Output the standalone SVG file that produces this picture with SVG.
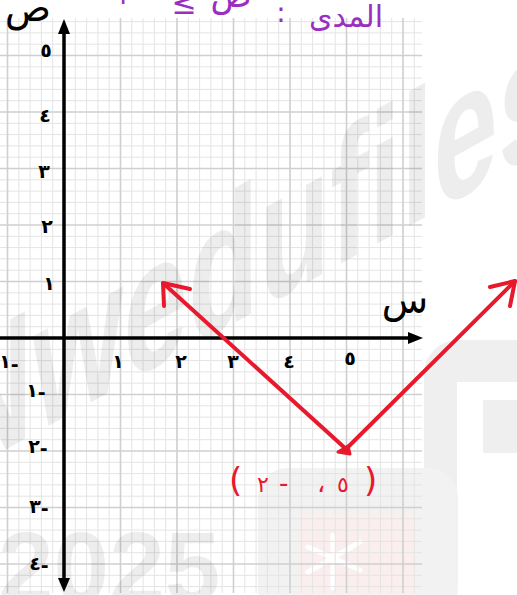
<svg xmlns="http://www.w3.org/2000/svg" width="517" height="595" viewBox="0 0 517 595">
<style>
.minor{stroke:#e4e4e4;stroke-width:1;fill:none}
.major{stroke:#cfcfcf;stroke-width:1.6;fill:none}
.axis{stroke:#000;stroke-width:3.5;fill:none}
.lbl{font-family:"DejaVu Sans",sans-serif;font-weight:bold;font-size:19px;fill:#000;text-anchor:middle}
.wm{fill:#000;fill-opacity:0.07;font-family:"Liberation Sans",Arial,sans-serif;font-weight:bold}
.red{stroke:#e8192c;stroke-width:4;fill:none;stroke-linecap:round;stroke-linejoin:round}
.redt{font-family:"DejaVu Sans",sans-serif;fill:#e8192c}
.pur{font-family:"DejaVu Sans",sans-serif;fill:#9a2fbf;text-anchor:middle}
</style>
<rect width="517" height="595" fill="#fff"/>
<g id="watermark-shapes">
<rect x="424" y="340" width="150" height="300" rx="34" fill="#efefef"/>
<rect x="457" y="382" width="70" height="230" fill="#fff"/>
<rect x="483" y="400" width="40" height="53" fill="#efefef"/>
<rect x="258" y="468" width="200" height="150" rx="30" fill="#f2f2f2"/>
<rect x="300" y="513" width="113" height="90" fill="#fbeeee"/>
<g stroke="#fff" stroke-width="5" stroke-linecap="round">
<line x1="333" y1="535" x2="333" y2="588"/>
<line x1="308" y1="547" x2="360" y2="570"/>
<line x1="308" y1="572" x2="360" y2="542"/>
</g>
</g>
<g id="grid">
<path class="minor" d="M18.8 18V593M30.1 18V593M41.4 18V593M52.7 18V593M75.3 18V593M86.6 18V593M97.9 18V593M109.2 18V593M131.8 18V593M143.1 18V593M154.4 18V593M165.7 18V593M188.3 18V593M199.6 18V593M210.9 18V593M222.2 18V593M244.8 18V593M256.1 18V593M267.4 18V593M278.7 18V593M301.3 18V593M312.6 18V593M323.9 18V593M335.2 18V593M357.8 18V593M369.1 18V593M380.4 18V593M391.7 18V593M414.3 18V593"/>
<path class="minor" d="M0 21.6H422M0 32.9H422M0 44.2H422M0 66.8H422M0 78.1H422M0 89.4H422M0 100.7H422M0 123.3H422M0 134.6H422M0 145.9H422M0 157.2H422M0 179.8H422M0 191.1H422M0 202.4H422M0 213.7H422M0 236.3H422M0 247.6H422M0 258.9H422M0 270.2H422M0 292.8H422M0 304.1H422M0 315.4H422M0 326.7H422M0 349.3H422M0 360.6H422M0 371.9H422M0 383.2H422M0 405.8H422M0 417.1H422M0 428.4H422M0 439.7H422M0 462.3H422M0 473.6H422M0 484.9H422M0 496.2H422M0 518.8H422M0 530.1H422M0 541.4H422M0 552.7H422M0 575.3H422M0 586.6H422"/>
<path class="major" d="M7.5 18V593M120.5 18V593M177 18V593M233.5 18V593M290 18V593M346.5 18V593M403 18V593"/>
<path class="major" d="M0 55.5H422M0 112H422M0 168.5H422M0 225H422M0 281.5H422M0 394.5H422M0 451H422M0 507.5H422M0 564H422"/>
</g>
<g id="watermark-text">
<text class="wm" font-size="155" transform="translate(-51,481) skewY(-29) scale(0.75,1.2)">Nwedufiles</text>
<text class="wm" font-size="100" x="-2" y="602" fill-opacity="0.055">2025</text>
</g>
<g id="axes">
<line class="axis" x1="64" y1="30" x2="64" y2="582"/>
<polygon points="64,19 58,34 70,34" fill="#000"/>
<polygon points="64,592 58,578 70,578" fill="#000"/>
<line class="axis" x1="0" y1="338" x2="412" y2="338"/>
<polygon points="423,338 408,332 408,344" fill="#000"/>
<text font-family="'DejaVu Sans',sans-serif" font-size="38" text-anchor="middle" x="28" y="21" fill="#000">ص</text>
<text font-family="'DejaVu Sans',sans-serif" font-size="38" text-anchor="middle" x="405" y="313" fill="#000">س</text>
</g>
<g id="x-labels">
<text class="lbl" x="118" y="368">١</text>
<text class="lbl" x="181" y="368">٢</text>
<text class="lbl" x="233" y="368">٣</text>
<text class="lbl" x="289" y="368">٤</text>
<text class="lbl" x="350" y="365">٥</text>
<text class="lbl" x="9" y="368">١<tspan dy="3">-</tspan></text>
</g>
<g id="y-labels">
<text class="lbl" x="46" y="57">٥</text>
<text class="lbl" x="45" y="122">٤</text>
<text class="lbl" x="44" y="178">٣</text>
<text class="lbl" x="47" y="233">٢</text>
<text class="lbl" x="49" y="290">١</text>
<text class="lbl" x="36" y="397">١<tspan dy="2">-</tspan></text>
<text class="lbl" x="38" y="453">٢<tspan dy="2">-</tspan></text>
<text class="lbl" x="39" y="513">٣<tspan dy="2">-</tspan></text>
<text class="lbl" x="39" y="570">٤<tspan dy="2">-</tspan></text>
</g>
<g id="connectors">
<path class="red" d="M163 283L346 449L515 281"/>
<path class="red" d="M190 289L163 283L164 306"/>
<path class="red" d="M490 287L515 281L510 306"/>
<path d="M338 452L348 446L350 454Z" fill="#e8192c" stroke="#e8192c" stroke-width="3" stroke-linejoin="round"/>
</g>
<g id="vertex-label">
<text class="redt" y="492"><tspan x="229" font-size="34">(</tspan><tspan x="257" font-size="22">٢</tspan><tspan x="279" font-size="26">-</tspan><tspan x="317" font-size="26">،</tspan><tspan x="337" font-size="22">٥</tspan><tspan x="364" font-size="34">)</tspan></text>
</g>
<g id="range-note">
<text class="pur" font-size="30" x="346" y="27">المدى</text>
<text class="pur" font-size="28" x="281" y="22">:</text>
<text class="pur" font-size="34" x="231" y="7">ص</text>
<text class="pur" font-size="30" x="184" y="14">≤</text>
<text class="pur" font-size="28" x="130" y="4">٢-</text>
</g>
</svg>
